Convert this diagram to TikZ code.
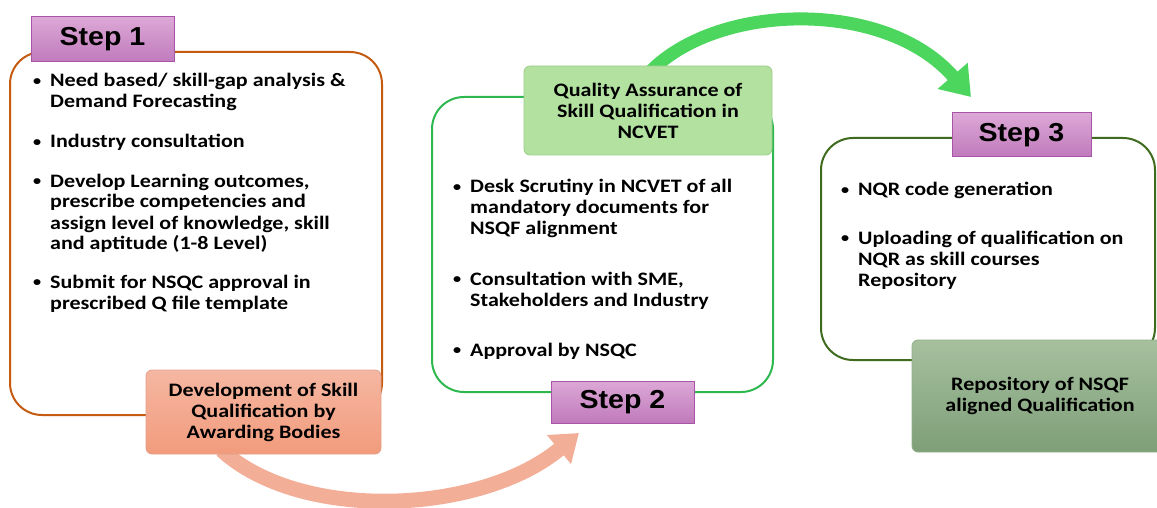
\documentclass[tikz,border=0pt]{standalone}
\usepackage{fontspec}
\setmainfont{Carlito}[FakeStretch=1.16]
\newfontfamily\arialfont{Liberation Sans}[FakeStretch=1.1]
\usetikzlibrary{arrows.meta}
\definecolor{oframe}{HTML}{C55A11}
\definecolor{gframe}{HTML}{2DB84F}
\definecolor{dframe}{HTML}{3E6B1E}
\definecolor{purpT}{HTML}{DCA8D6}
\definecolor{purpB}{HTML}{C07ABC}
\definecolor{purpD}{HTML}{A855A8}
\definecolor{salT}{HTML}{F5B7A2}
\definecolor{salB}{HTML}{F29B7C}
\definecolor{salD}{HTML}{E3A08A}
\definecolor{salArrow}{HTML}{F3AE97}
\definecolor{qaF}{HTML}{B2E1A0}
\definecolor{qaD}{HTML}{9CCB8C}
\definecolor{grArrow}{HTML}{4CD65E}
\definecolor{repT}{HTML}{A6C09E}
\definecolor{repB}{HTML}{7E9F78}
\definecolor{repD}{HTML}{92AE8A}
\tikzset{
  frame/.style={draw, line width=2pt, rounded corners=32pt, inner sep=0pt},
  steplabel/.style={draw=purpD, line width=1pt, top color=purpT, bottom color=purpB,
    inner sep=0pt, font=\arialfont\bfseries\fontsize{26}{30}\selectfont},
  item/.style={anchor=base west, inner sep=0pt, font=\bfseries\fontsize{19}{21}\selectfont},
  infobox/.style={draw, line width=0.8pt, rounded corners=6pt, inner sep=0pt, align=center,
    font=\bfseries\fontsize{19}{21}\selectfont}
}
\newcommand{\bul}{\leavevmode\llap{\raisebox{1.2pt}{\fontsize{14}{14}\selectfont\textbullet}\hspace{9pt}}}
\begin{document}
\begin{tikzpicture}[x=1pt,y=-1pt]
\useasboundingbox (0,0) rectangle (1157,508);
% frames
\node[frame, draw=oframe, minimum width=372pt, minimum height=363pt] (f1) at (196,233.5) {};
\node[frame, draw=gframe, minimum width=341pt, minimum height=295pt] (f2) at (602.5,244.5) {};
\node[frame, draw=dframe, minimum width=334pt, minimum height=222pt] (f3) at (988,249) {};
% arrows (drawn before the boxes so that they start behind them)
\coordinate (devS) at (263.5,454);
\coordinate (qaN) at (648,66);
\coordinate (tipA) at (579,433);
\coordinate (tipB) at (971,97);
\draw[line width=15pt, draw=salArrow, -{Triangle[width=36pt,length=26pt]}] ([xshift=-42pt,yshift=4pt]devS) .. controls (300,522) and (480,515) .. (tipA);
\draw[line width=13pt, draw=grArrow, -{Triangle[width=38pt,length=28pt]}] ([yshift=-8pt]qaN) .. controls (715,2) and (885,-2) .. (tipB);
% boxes
\node[infobox, draw=salD, top color=salT, bottom color=salB, minimum width=235pt, minimum height=84pt] (dev) at (263.5,412) {Development of Skill\\Qualification by\\Awarding Bodies};
\node[infobox, draw=qaD, fill=qaF, minimum width=248pt, minimum height=89pt] (qa) at (648,110.5) {Quality Assurance of\\Skill Qualification in\\NCVET};
\begin{scope}
\clip (0,0) rectangle (1157,508);
\node[infobox, draw=repD, top color=repT, bottom color=repB, minimum width=256pt, minimum height=112pt] (rep) at (1040,396) {Repository of NSQF\\aligned Qualification};
\end{scope}
% step labels
\node[steplabel, minimum width=143pt, minimum height=45pt] (s1) at (102.5,39.5) {Step 1};
\node[steplabel, minimum width=143pt, minimum height=42pt] (s2) at (622.5,402) {Step 2};
\node[steplabel, minimum width=139pt, minimum height=44pt] (s3) at (1021.5,135) {Step 3};
% step 1 items
\node[item] (a1) at (50,87) {\parbox[t]{330pt}{\bul Need based/ skill-gap analysis \&\\Demand Forecasting}};
\node[item] (a2) at (50,148) {\parbox[t]{330pt}{\bul Industry consultation}};
\node[item] (a3) at (50,187) {\parbox[t]{330pt}{\bul Develop Learning outcomes,\\prescribe competencies and\\assign level of knowledge, skill\\and aptitude (1-8 Level)}};
\node[item] (a4) at (50,288) {\parbox[t]{330pt}{\bul Submit for NSQC approval in\\prescribed Q file template}};
% step 2 items
\node[item] (b1) at (470,193) {\parbox[t]{300pt}{\bul Desk Scrutiny in NCVET of all\\mandatory documents for\\NSQF alignment}};
\node[item] (b2) at (470,285) {\parbox[t]{300pt}{\bul Consultation with SME,\\Stakeholders and Industry}};
\node[item] (b3) at (470,356) {\parbox[t]{300pt}{\bul Approval by NSQC}};
% step 3 items
\node[item] (c1) at (858,196) {\parbox[t]{290pt}{\bul NQR code generation}};
\node[item] (c2) at (858,244) {\parbox[t]{290pt}{\bul Uploading of qualification on\\NQR as skill courses\\Repository}};
\end{tikzpicture}
\end{document}
